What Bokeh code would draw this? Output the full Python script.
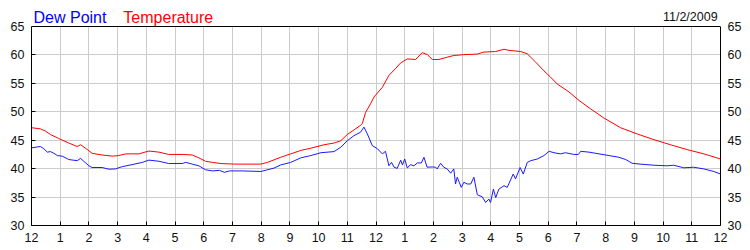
from bokeh.plotting import figure
from bokeh.models import (LinearAxis, Range1d, FixedTicker, Label, ColumnDataSource,
                          BoxAnnotation, Span)
from bokeh.embed import file_html
from bokeh.resources import INLINE

# hours since midnight, 11/2/2009
temp_hours = [0.0, 0.31, 0.49, 0.66, 0.95, 1.30, 1.59, 1.71, 1.88, 2.11, 2.46, 2.81, 3.04, 3.28,
              3.74, 4.09, 4.44, 4.78, 5.25, 5.60, 5.83, 6.06, 6.3, 6.6, 7.06, 7.99, 8.22, 8.68,
              9.03, 9.38, 9.73, 10.19, 10.54, 10.77, 11.0, 11.23, 11.46, 11.52, 11.64, 11.81,
              11.93, 12.22, 12.45, 12.68, 12.86, 13.09, 13.38, 13.61, 13.79, 13.96, 14.19,
              14.48, 14.71, 15.06, 15.53, 15.76, 16.17, 16.46, 16.63, 17.04, 17.27, 17.56,
              17.85, 18.08, 18.31, 18.72, 19.07, 19.48, 19.94, 20.52, 21.1, 21.68, 22.26,
              22.84, 23.42, 24.0]
temperature = [47.2, 47.0, 46.6, 46.0, 45.3, 44.5, 43.9, 44.2, 43.6, 42.7, 42.4, 42.2, 42.3, 42.6,
               42.6, 43.1, 42.9, 42.5, 42.5, 42.4, 41.9, 41.3, 41.1, 40.9, 40.8, 40.8, 41.1, 42.0,
               42.6, 43.2, 43.6, 44.2, 44.5, 44.9, 46.0, 46.8, 47.6, 47.9, 49.9, 51.4,
               52.6, 54.3, 56.4, 57.6, 58.6, 59.3, 59.2, 60.4, 60.05, 59.2, 59.2,
               59.6, 59.9, 60.05, 60.15, 60.5, 60.6, 61.0, 60.8, 60.6, 60.2, 58.75,
               57.2, 56.1, 54.9, 53.5, 52.0, 50.5, 48.9, 47.2, 46.1, 45.1, 44.2,
               43.35, 42.6, 41.7]

dew_hours = [0.0, 0.31, 0.43, 0.55, 0.66, 0.78, 0.9, 1.07, 1.30, 1.59, 1.71, 1.82, 2.0, 2.11,
             2.46, 2.7, 2.92, 3.16, 3.5, 3.86, 4.09, 4.44, 4.78, 5.25, 5.37, 5.60, 5.83, 6.06,
             6.31, 6.55, 6.72, 6.9, 7.36, 7.99, 8.22, 8.45, 8.68, 9.03, 9.38, 9.73, 10.08,
             10.54, 10.77, 11.0, 11.23, 11.46, 11.58, 11.7, 11.87, 12.05, 12.22, 12.33, 12.45,
             12.54, 12.63, 12.74, 12.86, 12.92, 13.0, 13.09, 13.2, 13.32, 13.44, 13.58, 13.67,
             13.78, 13.96, 14.08, 14.13, 14.25, 14.36, 14.48, 14.6, 14.71, 14.77, 14.83, 14.97,
             15.06, 15.18, 15.3, 15.41, 15.53, 15.7, 15.82, 15.93, 15.99, 16.09, 16.17, 16.28,
             16.46, 16.57, 16.78, 16.86, 17.02, 17.13, 17.27, 17.39, 17.62, 17.85, 18.03, 18.2,
             18.42, 18.6, 18.89, 19.05, 19.13, 19.42, 19.77, 20.12, 20.46, 20.7, 20.92, 21.2,
             21.68, 22.14, 22.37, 22.72, 23.07, 23.42, 23.77, 24.0]
dew_point = [43.65, 43.9, 43.5, 42.9, 43.0, 42.7, 42.3, 42.2, 41.6, 41.4, 41.8, 41.3, 40.5, 40.2,
             40.2, 39.9, 39.95, 40.35, 40.7, 41.1, 41.5, 41.3, 40.9, 40.9, 41.1, 40.8, 40.5, 39.8,
             39.6, 39.7, 39.35, 39.6, 39.6, 39.5, 39.8, 40.1, 40.65, 41.1, 41.9, 42.3, 42.8,
             43.0, 43.75, 44.9, 45.8, 46.4, 47.3, 46.1, 44.05, 43.5, 42.6, 43.05, 40.5,
             41.1, 40.25, 40.05, 41.5, 40.65, 41.7, 40.1, 40.7, 40.5, 41.0, 41.0, 42.0,
             40.25, 40.3, 40.25, 39.95, 40.95, 40.25, 39.95, 39.2, 39.95, 37.3, 38.5, 36.7,
             37.6, 37.3, 37.3, 38.5, 35.4, 35.05, 34.05, 34.65, 34.05, 36.4, 34.9, 36.4,
             37.0, 36.7, 39.05, 38.2, 40.2, 39.05, 41.1, 41.4, 41.7, 42.3, 43.05, 42.8,
             42.6, 42.8, 42.5, 42.5, 43.05, 42.9, 42.6, 42.3, 42.0, 41.6, 40.95, 40.8,
             40.6, 40.5, 40.6, 40.15, 40.25, 39.95, 39.5, 39.05]

hour_ticks = list(range(0, 25))
hour_labels = ["12", "1", "2", "3", "4", "5", "6", "7", "8", "9", "10", "11",
               "12", "1", "2", "3", "4", "5", "6", "7", "8", "9", "10", "11", "12"]
y_ticks = [30, 35, 40, 45, 50, 55, 60, 65]
date_text = "11/2/2009"
series_names = ["Dew Point", "Temperature"]

FONT = "Liberation Sans"
Y_MIN, Y_MAX = 30, 65
Y_TOP = 69.573  # frame extends to the canvas top so the header texts are not clipped

p = figure(width=750, height=250, output_backend="svg", toolbar_location=None,
           x_range=Range1d(0, 24), y_range=Range1d(Y_MIN, Y_TOP),
           min_border_left=31, min_border_right=30, min_border_top=0, min_border_bottom=25)
p.outline_line_color = None
p.background_fill_color = "white"
p.border_fill_color = "white"

p.xgrid.ticker = FixedTicker(ticks=hour_ticks)
p.ygrid.ticker = FixedTicker(ticks=y_ticks)
p.grid.grid_line_color = "#cccccc"
p.grid.grid_line_width = 1

xa = p.xaxis[0]
xa.ticker = FixedTicker(ticks=hour_ticks)
xa.major_label_overrides = {t: l for t, l in zip(hour_ticks, hour_labels)}

ya = p.yaxis[0]
ya.ticker = FixedTicker(ticks=y_ticks)
ya.bounds = (Y_MIN, Y_MAX)

ra = LinearAxis(ticker=FixedTicker(ticks=y_ticks), bounds=(Y_MIN, Y_MAX))
p.add_layout(ra, "right")

for ax in (xa, ya, ra):
    ax.axis_line_color = "black"
    ax.major_tick_line_color = "black"
    ax.major_tick_in = 4
    ax.major_tick_out = 0
    ax.minor_tick_line_color = None
    ax.major_label_text_font = FONT
    ax.major_label_text_font_size = "12.5px"
    ax.major_label_text_color = "#101010"
    ax.major_label_standoff = 7
ra.major_tick_line_color = None

src_t = ColumnDataSource(dict(x=temp_hours, y=temperature))
src_d = ColumnDataSource(dict(x=dew_hours, y=dew_point))
p.line("x", "y", source=src_t, line_color="#ff0000", line_width=1)
p.line("x", "y", source=src_d, line_color="#1a1aff", line_width=1)

# blank header strip above the plotting box, and the box's top edge
p.add_layout(BoxAnnotation(bottom=Y_MAX, fill_color="white", fill_alpha=1.0, line_color=None))
p.add_layout(Span(location=Y_MAX, dimension="width", line_color="black", line_width=1))

p.add_layout(Label(x=0.07, y=66.53, text=series_names[0], text_color="#0000ff",
                   text_font=FONT, text_font_size="16px", text_baseline="alphabetic"))
p.add_layout(Label(x=3.2, y=66.53, text=series_names[1], text_color="#ff0000",
                   text_font=FONT, text_font_size="16px", text_baseline="alphabetic"))
p.add_layout(Label(x=23.9, y=66.63, text=date_text, text_color="#101010", text_align="right",
                   text_font=FONT, text_font_size="12.5px", text_baseline="alphabetic"))

open("out.html", "w").write(file_html(p, INLINE))
